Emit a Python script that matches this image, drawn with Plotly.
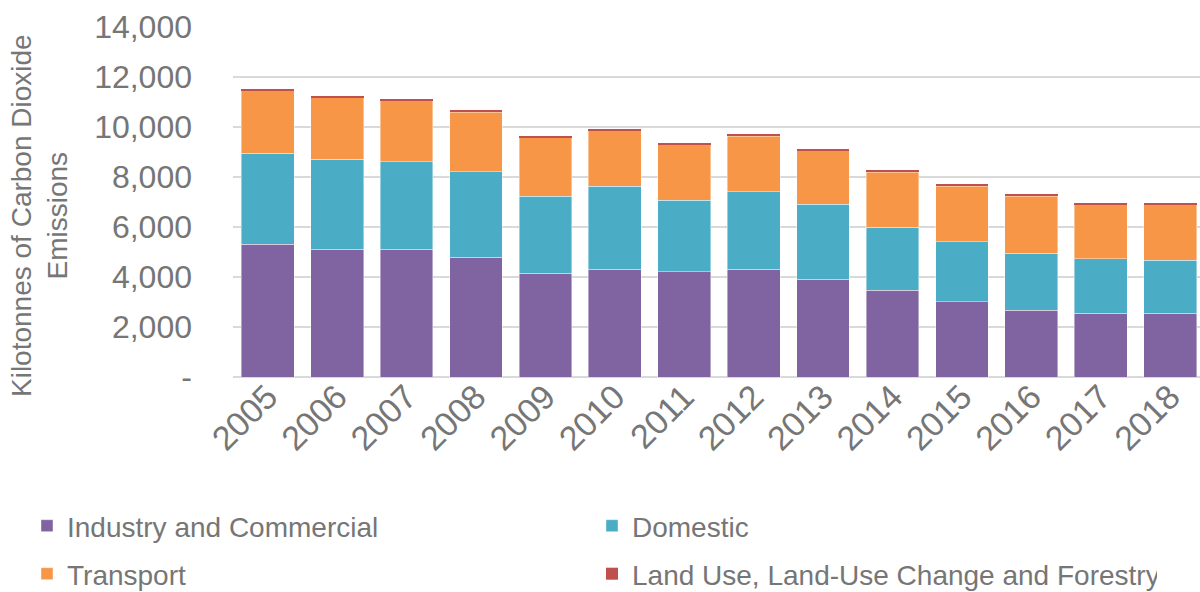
import plotly.graph_objects as go

years = ["2005", "2006", "2007", "2008", "2009", "2010", "2011",
         "2012", "2013", "2014", "2015", "2016", "2017", "2018"]
industry = [5310, 5120, 5120, 4790, 4160, 4320, 4210, 4320, 3920, 3470, 3010, 2680, 2560, 2560]
domestic = [3640, 3600, 3490, 3420, 3080, 3320, 2860, 3090, 2990, 2520, 2400, 2280, 2170, 2110]
transport = [2500, 2450, 2440, 2390, 2330, 2210, 2220, 2230, 2140, 2210, 2230, 2280, 2160, 2220]
lulucf = [65, 70, 70, 70, 70, 70, 70, 70, 70, 70, 60, 60, 70, 70]

ytick_vals = [0, 2000, 4000, 6000, 8000, 10000, 12000, 14000]
ytick_text = ["-", "2,000", "4,000", "6,000", "8,000", "10,000", "12,000", "14,000"]

FONT = "Liberation Sans, Arial, sans-serif"
GRAY = "#767676"

series = [
    ("Industry and Commercial", industry, "#8064A2", "legend", 0.7),
    ("Domestic", domestic, "#4BACC6", "legend", 0.7),
    ("Transport", transport, "#F79646", "legend2", 0.7),
    ("Land Use, Land-Use Change and Forestry", lulucf, "#C0504D", "legend2", 0),
]

fig = go.Figure()
for name, vals, color, leg, lw in series:
    fig.add_trace(go.Bar(
        x=years, y=vals, name=name, legend=leg,
        marker=dict(color=color, line=dict(color="rgba(255,255,255,0.6)", width=lw)),
    ))

PW = 967.0
PH = 350.0
legend_common = dict(
    orientation="h", xref="paper", yref="paper",
    xanchor="left", yanchor="middle", traceorder="normal",
    font=dict(family=FONT, size=28, color=GRAY),
    entrywidth=520, entrywidthmode="pixels",
    bgcolor="rgba(0,0,0,0)", itemclick=False,
)

fig.update_layout(
    width=1200, height=592,
    barmode="stack", bargap=0.24,
    plot_bgcolor="white", paper_bgcolor="white",
    margin=dict(l=233, r=0, t=27, b=215, autoexpand=False),
    font=dict(family=FONT, color=GRAY),
    legend=dict(x=(27 - 233) / PW, y=(377 - 526) / PH, **legend_common),
    legend2=dict(x=(27 - 233) / PW, y=(377 - 574) / PH, **legend_common),
    xaxis=dict(
        range=[-0.5, 13.43], tickangle=-45,
        tickfont=dict(family=FONT, size=34, color=GRAY),
        showgrid=False, showline=False, ticks="", ticklabelstandoff=-8,
    ),
    yaxis=dict(
        range=[0, 14000], tickvals=ytick_vals, ticktext=ytick_text,
        tickfont=dict(family=FONT, size=32, color=GRAY),
        showgrid=True, gridcolor="#D9D9D9", gridwidth=2,
        zeroline=True, zerolinecolor="#D9D9D9", zerolinewidth=2,
        showline=False, ticks="", ticklabelstandoff=40,
    ),
    annotations=[dict(
        text="Kilotonnes of Carbon Dioxide<br>Emissions",
        xref="paper", yref="paper", x=(39 - 233) / PW, y=(377 - 216) / PH,
        xanchor="center", yanchor="middle", textangle=-90, showarrow=False,
        font=dict(family=FONT, size=28, color=GRAY),
    )],
)

fig.write_html("out.html", config={"displayModeBar": False},
               post_script="document.body.style.margin='0';")
